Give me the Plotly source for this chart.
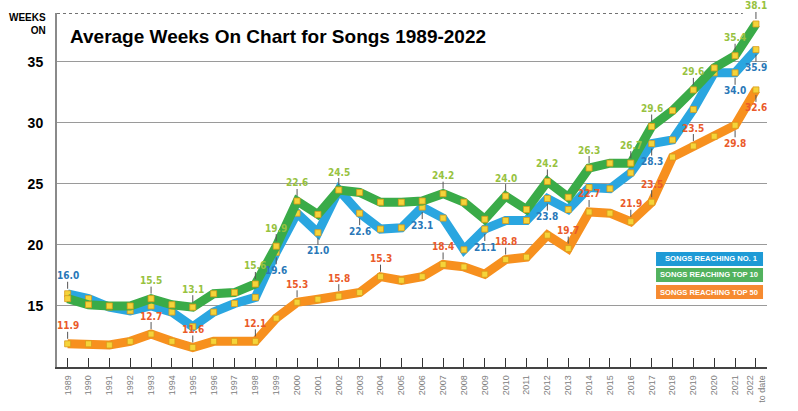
import plotly.graph_objects as go

years = list(range(1989, 2023))
year_ticktext = [str(y) for y in range(1989, 2022)] + ["2022<br>to date"]

no1 = [16.0, 15.6, 14.9, 14.6, 15.0, 14.5, 13.3, 14.5, 15.2, 15.7,
       19.4, 22.6, 21.0, 24.5, 22.6, 21.3, 21.4, 23.1, 22.2, 19.6,
       21.3, 22.0, 22.0, 23.8, 22.9, 24.7, 24.6, 25.9, 28.3, 28.6,
       31.1, 34.1, 34.1, 36.0]
top10 = [15.6, 15.1, 15.0, 15.0, 15.6, 15.1, 14.9, 16.0, 16.1, 16.8,
         19.9, 23.6, 22.5, 24.5, 24.3, 23.5, 23.5, 23.6, 24.2, 23.5,
         22.1, 24.0, 22.9, 25.2, 23.9, 26.3, 26.7, 26.7, 29.7, 31.0,
         32.7, 34.5, 35.5, 38.1]
top50 = [11.9, 11.9, 11.8, 12.1, 12.7, 12.1, 11.6, 12.1, 12.1, 12.1,
         14.0, 15.3, 15.55, 15.8, 16.1, 17.4, 17.1, 17.4, 18.4, 18.2,
         17.6, 18.8, 19.0, 20.8, 19.7, 22.7, 22.6, 21.9, 23.5, 27.2,
         28.1, 28.9, 29.8, 32.7]

no1_label_years = [1989, 1999, 2001, 2003, 2006, 2009, 2012, 2017, 2021, 2022]
no1_label_text = ["16.0", "19.6", "21.0", "22.6", "23.1", "21.1", "23.8", "28.3", "34.0", "35.9"]
no1_label_dir = [1, -1, -1, -1, -1, -1, -1, -1, -1, -1]

top10_label_years = [1993, 1995, 1998, 1999, 2000, 2002, 2007, 2010, 2012, 2014, 2016, 2017, 2019, 2021, 2022]
top10_label_text = ["15.5", "13.1", "15.6", "19.9", "22.6", "24.5", "24.2", "24.0", "24.2", "26.3", "26.7", "29.6", "29.6", "35.4", "38.1"]
top10_label_dir = [1] * 15

top50_label_years = [1989, 1993, 1995, 1998, 2000, 2002, 2004, 2007, 2010, 2013, 2014, 2016, 2017, 2019, 2021, 2022]
top50_label_text = ["11.9", "12.7", "11.6", "12.1", "15.3", "15.8", "15.3", "18.4", "18.8", "19.7", "22.7", "21.9", "23.5", "23.5", "29.8", "32.6"]
top50_label_dir = [1] * 14 + [-1, -1]

series_names = ["SONGS REACHING NO. 1", "SONGS REACHING TOP 10", "SONGS REACHING TOP 50"]

LINE_COL = {"no1": "#2aa6e0", "top10": "#3aab48", "top50": "#f7901e"}
TEXT_COL = {"no1": "#2a78b8", "top10": "#97c23f", "top50": "#ea5a2a"}
BOX_COL = {"no1": "#1e9ad6", "top10": "#52b25e", "top50": "#f68a30"}

fig = go.Figure()

series = [("top50", top50), ("no1", no1), ("top10", top10)]
for key, vals in series:
    fig.add_trace(go.Scatter(
        x=years, y=vals, mode="lines+markers",
        line=dict(color=LINE_COL[key], width=9),
        marker=dict(symbol="square", size=6, color="#f5d43a",
                    line=dict(color="#d99a1a", width=0.8)),
        showlegend=False, hoverinfo="skip"))

label_font_family = "Liberation Sans Narrow, DejaVu Sans Condensed, Arial Narrow, sans-serif"

def add_labels(key, vals, lyears, ltext, ldir):
    for yr, txt, d in zip(lyears, ltext, ldir):
        v = vals[years.index(yr)]
        fig.add_annotation(
            x=yr, y=v, text=txt, showarrow=True, arrowhead=0,
            arrowwidth=1, arrowcolor="#555555", ax=0, ay=-18 * d,
            standoff=5,
            font=dict(family=label_font_family, size=10, color=TEXT_COL[key], weight="bold"),
            borderpad=0)

add_labels("no1", no1, no1_label_years, no1_label_text, no1_label_dir)
add_labels("top10", top10, top10_label_years, top10_label_text, top10_label_dir)
add_labels("top50", top50, top50_label_years, top50_label_text, top50_label_dir)

# top dotted line
fig.add_shape(type="line", xref="paper", yref="y", x0=0, x1=0.966, y0=39, y1=39,
              line=dict(color="#444444", width=1.5, dash="dot"))

# title
fig.add_annotation(xref="paper", yref="paper", x=0.0155, y=0.935, xanchor="left", yanchor="middle",
                   text="Average Weeks On Chart for Songs 1989-2022", showarrow=False,
                   font=dict(family="Liberation Sans, Arial, sans-serif", size=19, color="#000000", weight="bold"))
fig.add_annotation(xref="paper", yref="paper", x=-0.0127, y=0.969, xanchor="right", yanchor="middle",
                   text="WEEKS<br>ON", showarrow=False, align="right",
                   font=dict(family="Liberation Sans, Arial, sans-serif", size=10, color="#000000", weight="bold"))

# legend boxes
boxes = [("no1", 0.3249, 0.2853), ("top10", 0.2797, 0.2401), ("top50", 0.2316, 0.1921)]
for (key, y1, y0), name in zip(boxes, series_names):
    fig.add_shape(type="rect", xref="paper", yref="paper", x0=0.8437, x1=0.9944, y0=y0, y1=y1,
                  fillcolor=BOX_COL[key], line=dict(width=0), layer="above")
    fig.add_annotation(xref="paper", yref="paper", x=0.9905, y=(y0 + y1) / 2, xanchor="right",
                       yanchor="middle", text=name, showarrow=False,
                       font=dict(family="Liberation Sans, Arial, sans-serif", size=7.6, color="#ffffff", weight="bold"))

fig.update_layout(
    width=798, height=411,
    margin=dict(l=57, r=31, t=13, b=44),
    paper_bgcolor="#ffffff", plot_bgcolor="#ffffff",
    xaxis=dict(range=[1988.49, 2022.53], tickmode="array", tickvals=years, ticktext=year_ticktext,
               tickangle=-90, ticks="inside", ticklen=9, tickcolor="#333333", tickwidth=1,
               showline=True, linecolor="#444444", linewidth=1.5, showgrid=False, zeroline=False,
               tickfont=dict(family="Liberation Sans, Arial, sans-serif", size=9, color="#808080"),
               ticklabelstandoff=3, automargin=False),
    yaxis=dict(range=[10, 39], tickvals=[15, 20, 25, 30, 35], showgrid=True, gridcolor="#9a9a9a",
               gridwidth=1.3, showline=True, linecolor="#8a8a8a", linewidth=2, zeroline=False,
               ticks="", ticklabelstandoff=9, automargin=False,
               tickfont=dict(family="Liberation Sans, Arial, sans-serif", size=14, color="#000000", weight="bold")),
)

# remove the browser's default 8px body margin so the figure fills the window exactly
fig.write_html("out.html", config={"displayModeBar": False},
               post_script="document.body.style.margin='0';document.body.style.overflow='hidden';")
